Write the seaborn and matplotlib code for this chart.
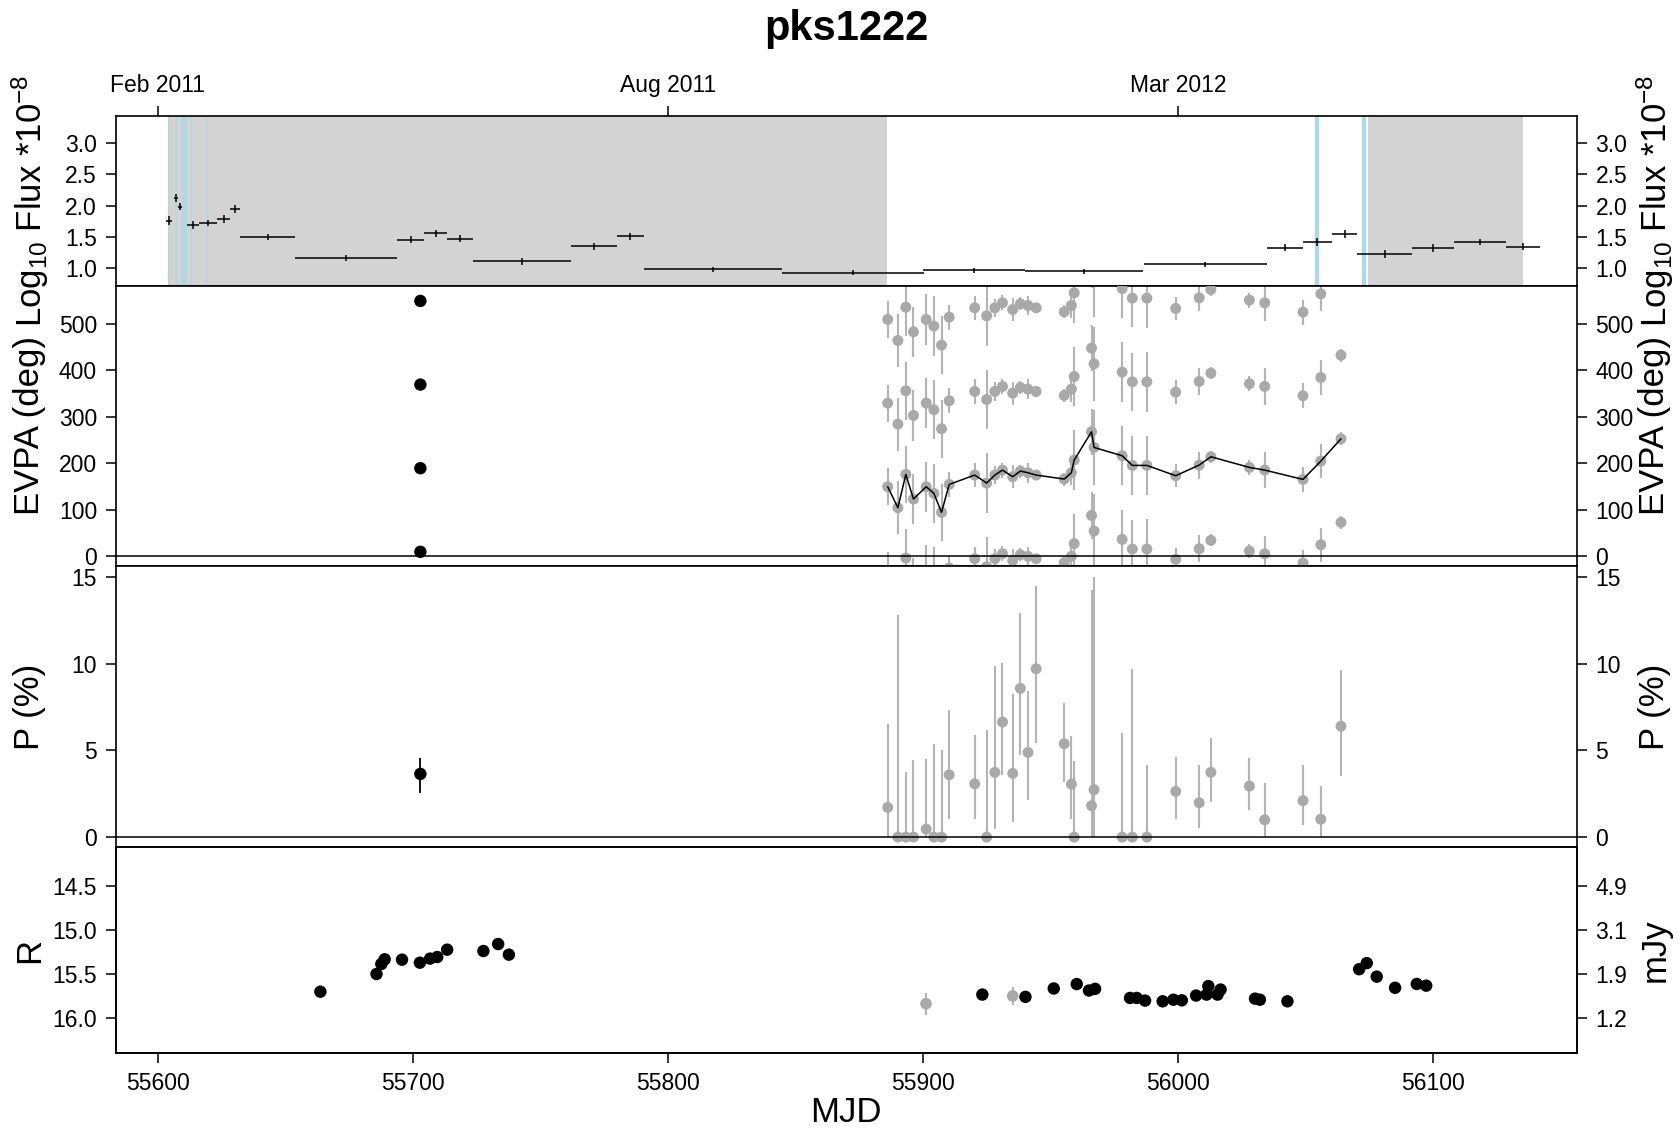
import numpy as np
import pandas as pd
import matplotlib
matplotlib.use("Agg")
import matplotlib.pyplot as plt
import seaborn as sns

# ------------------------------------------------------------------ data
top_tick_mjd = [55600, 55800, 56000]
top_tick_labels = ["Feb 2011", "Aug 2011", "Mar 2012"]
bottom_ticks = [55600, 55700, 55800, 55900, 56000, 56100]

shade_start = [55604.2, 56074.6]
shade_end = [55886.1, 56135.2]
blue_thin_mjd = [55604.2, 55607.2, 55613.0, 55619.5]
blue_thick_mjd = [55610.4, 56054.5, 56073.1]

flux_mjd = [55604.5, 55607.1, 55608.7, 55613.9, 55619.8, 55625.9, 55630.4, 55643.1,
            55673.9, 55699.2, 55709.1, 55718.7, 55742.9, 55771.0, 55785.3, 55817.6,
            55872.5, 55920.1, 55963.2, 56010.7, 56041.9, 56054.6, 56065.3, 56081.1,
            56100.0, 56118.4, 56135.2]
flux_halfbin = [1.2, 0.8, 0.8, 2.2, 3.5, 2.6, 1.9, 10.9, 19.9, 5.4, 4.5, 5.1, 19.1,
                9.0, 5.25, 27.1, 27.75, 19.9, 23.25, 24.15, 7.05, 5.7, 5.0, 10.8,
                8.15, 10.2, 6.55]
flux_val = [1.763, 2.12, 1.987, 1.693, 1.72, 1.79, 1.944, 1.50, 1.17, 1.459, 1.56,
            1.475, 1.112, 1.352, 1.512, 0.984, 0.931, 0.973, 0.952, 1.064, 1.331,
            1.42, 1.549, 1.229, 1.325, 1.42, 1.347]
flux_err = [0.07, 0.06, 0.06, 0.06, 0.05, 0.06, 0.06, 0.05, 0.05, 0.06, 0.06, 0.06,
            0.05, 0.06, 0.06, 0.04, 0.04, 0.04, 0.04, 0.04, 0.06, 0.06, 0.06, 0.06,
            0.06, 0.05, 0.06]

evpa_mjd = [55886.2, 55890.2, 55893.3, 55896.3, 55901.3, 55904.3, 55907.3, 55910.3,
            55920.3, 55925.0, 55928.2, 55931.2, 55935.2, 55938.2, 55941.2, 55944.4,
            55955.4, 55958.2, 55959.3, 55966.1, 55967.1, 55978.1, 55982.1, 55987.8,
            55999.1, 56008.3, 56012.9, 56028.0, 56034.0, 56049.0, 56056.0, 56063.9]
evpa_val = [149.1, 103.9, 175.6, 122.6, 149.1, 134.8, 93.9, 154.1, 174.2, 157.0,
            174.2, 184.9, 170.6, 182.8, 179.2, 174.2, 165.6, 179.2, 206.5, 267.4,
            233.7, 215.8, 195.0, 195.0, 172.8, 195.7, 213.6, 190.7, 184.9, 164.9,
            204.3, 252.3]
evpa_err = [40, 57, 62, 54, 54, 64, 62, 27, 26, 64, 20, 16, 25, 14, 21, 11, 14, 27,
            64, 50, 80, 64, 63, 64, 25, 29, 13, 16, 39, 27, 37, 14]

pol_val = [1.71, 0, 0, 0, 0.46, 0, 0, 3.59, 3.07, 0, 3.73, 6.63, 3.67, 8.57, 4.88,
           9.70, 5.38, 3.05, 0, 1.81, 2.73, 0, 0, 0, 2.63, 1.98, 3.73, 2.94, 1.0,
           2.1, 1.03, 6.39]
pol_lo = [0, 0, 0, 0, 0, 0, 0, 1.06, 1.06, 0, 0.48, 3.59, 0.86, 4.71, 2.11, 5.42,
          3.17, 1.06, 0, 0, 0, 0, 0, 0, 1.06, 0.54, 2.02, 1.54, 0, 0.67, 0, 3.51]
pol_hi = [6.53, 12.77, 3.75, 4.42, 4.51, 5.38, 5.03, 7.34, 5.86, 6.19, 9.83, 10.06,
          8.26, 12.92, 8.39, 14.44, 7.74, 5.82, 4.36, 14.21, 14.98, 6.01, 9.66, 4.13,
          4.61, 4.17, 5.70, 4.57, 3.13, 4.17, 2.94, 9.60]

opt_mjd = [55703.0]
opt_evpa = [9.0]
opt_pol = [3.64]
opt_pol_lo = [2.53]
opt_pol_hi = [4.57]

rmag_mjd = [55663.8, 55685.8, 55687.7, 55689.0, 55695.8, 55702.8, 55706.8, 55709.6,
            55713.5, 55727.7, 55733.5, 55737.7, 55923.3, 55940.2, 55951.3, 55960.3,
            55965.1, 55967.5, 55981.2, 55983.8, 55987.1, 55994.0, 55998.2, 56001.5,
            56007.1, 56011.2, 56011.9, 56015.5, 56016.7, 56030.2, 56032.1, 56042.9,
            56071.0, 56074.0, 56077.9, 56085.1, 56093.6, 56097.3]
rmag_val = [15.699, 15.499, 15.386, 15.333, 15.337, 15.371, 15.325, 15.307, 15.224,
            15.239, 15.160, 15.280, 15.732, 15.758, 15.663, 15.613, 15.686, 15.667,
            15.770, 15.770, 15.800, 15.808, 15.790, 15.797, 15.743, 15.732, 15.636,
            15.732, 15.675, 15.778, 15.790, 15.808, 15.445, 15.376, 15.529, 15.655,
            15.612, 15.631]
rmag_gray_mjd = [55901.2, 55935.2]
rmag_gray_val = [15.835, 15.747]
rmag_gray_err = [0.125, 0.10]

r_ticks = [14.5, 15.0, 15.5, 16.0]
r_tick_labels = ["14.5", "15.0", "15.5", "16.0"]
mjy_labels = ["4.9", "3.1", "1.9", "1.2"]

# ------------------------------------------------------------------ style
sns.set_style("ticks")
plt.rcParams["font.family"] = ["Liberation Sans", "DejaVu Sans"]
plt.rcParams["mathtext.fontset"] = "custom"
plt.rcParams["mathtext.rm"] = "Liberation Sans"
plt.rcParams["mathtext.it"] = "Liberation Sans:italic"
plt.rcParams["axes.linewidth"] = 1.2
plt.rcParams["axes.edgecolor"] = "black"
plt.rcParams["text.color"] = "black"
plt.rcParams["axes.labelcolor"] = "black"
plt.rcParams["xtick.color"] = "black"
plt.rcParams["ytick.color"] = "black"

GRAY_PT = "#A9A9A9"
GRAY_BAR = "#B4B4B4"
TICK_FS = 16.5
LAB_FS = 25

W, H = 1681, 1134
L, Rr = 115.8, 1576.7
fig = plt.figure(figsize=(W / 100, H / 100), dpi=100)


def box(top, bottom):
    return [L / W, 1 - bottom / H, (Rr - L) / W, (bottom - top) / H]


ax1 = fig.add_axes(box(116, 285.7))
ax2 = fig.add_axes(box(285.7, 566))
ax3 = fig.add_axes(box(566, 847))
ax4 = fig.add_axes(box(847, 1053))

XLIM = (55583.6, 56156.3)

# ---- flux panel
for s, e in zip(shade_start, shade_end):
    ax1.axvspan(s, e, color="#D3D3D3", lw=0, zorder=0)
for m in blue_thin_mjd:
    ax1.axvline(m, color="#ADD8E6", lw=0.9, zorder=1)
for m in blue_thick_mjd:
    ax1.axvline(m, color="#ADD8E6", lw=3.2, zorder=1)
ax1.errorbar(flux_mjd, flux_val, xerr=flux_halfbin, yerr=flux_err, fmt="none",
             ecolor="black", elinewidth=1.1, capsize=0, zorder=3)
ax1.set_ylim(0.725, 3.43)
ax1.set_yticks([1.0, 1.5, 2.0, 2.5, 3.0])
ax1.set_yticklabels(["1.0", "1.5", "2.0", "2.5", "3.0"])
ax1.set_xticks(top_tick_mjd)
ax1.set_xticklabels(top_tick_labels)
ax1.tick_params(axis="x", top=True, bottom=False, labeltop=True, labelbottom=False)
ax1.tick_params(axis="y", left=True, right=True, labelleft=True, labelright=True)

# ---- EVPA panel
evpa_df = pd.DataFrame({"mjd": evpa_mjd, "evpa": evpa_val, "err": evpa_err})
for k in (-1, 0, 1, 2):
    yy = evpa_df["evpa"] + 180 * k
    ax2.errorbar(evpa_df["mjd"], yy, yerr=evpa_df["err"], fmt="none",
                 ecolor=GRAY_BAR, elinewidth=1.5, capsize=0, zorder=2)
    sns.scatterplot(x=evpa_df["mjd"], y=yy, color=GRAY_PT, s=62, edgecolor="none",
                    ax=ax2, zorder=3, legend=False)
sns.lineplot(data=evpa_df, x="mjd", y="evpa", color="black", lw=1.1, sort=False,
             estimator=None, ax=ax2, zorder=5, legend=False)
opt_df = pd.DataFrame({"mjd": opt_mjd * 4,
                       "evpa": [opt_evpa[0] + 180 * k for k in range(4)]})
sns.scatterplot(data=opt_df, x="mjd", y="evpa", color="black", s=80,
                edgecolor="none", ax=ax2, zorder=6, legend=False)
ax2.axhline(0, color="black", lw=1.1, zorder=4)
ax2.set_ylim(-21.5, 581.8)
ax2.set_yticks([0, 100, 200, 300, 400, 500])
ax2.tick_params(axis="x", bottom=False, top=False, labelbottom=False)
ax2.tick_params(axis="y", left=True, right=True, labelleft=True, labelright=True)

# ---- polarisation panel
pol_df = pd.DataFrame({"mjd": evpa_mjd, "p": pol_val, "lo": pol_lo, "hi": pol_hi})
ax3.errorbar(pol_df["mjd"], pol_df["p"],
             yerr=[pol_df["p"] - pol_df["lo"], pol_df["hi"] - pol_df["p"]],
             fmt="none", ecolor=GRAY_BAR, elinewidth=1.5, capsize=0, zorder=2)
sns.scatterplot(data=pol_df, x="mjd", y="p", color=GRAY_PT, s=62, edgecolor="none",
                ax=ax3, zorder=3, legend=False)
ax3.errorbar(opt_mjd, opt_pol,
             yerr=[[opt_pol[0] - opt_pol_lo[0]], [opt_pol_hi[0] - opt_pol[0]]],
             fmt="none", ecolor="black", elinewidth=1.3, capsize=0, zorder=4)
sns.scatterplot(x=opt_mjd, y=opt_pol, color="black", s=80, edgecolor="none",
                ax=ax3, zorder=5, legend=False)
ax3.axhline(0, color="black", lw=1.1, zorder=4)
ax3.set_ylim(-0.57, 15.62)
ax3.set_yticks([0, 5, 10, 15])
ax3.tick_params(axis="x", bottom=False, top=False, labelbottom=False)
ax3.tick_params(axis="y", left=True, right=True, labelleft=True, labelright=True)

# ---- R magnitude panel
ax4.errorbar(rmag_gray_mjd, rmag_gray_val, yerr=rmag_gray_err, fmt="none",
             ecolor=GRAY_BAR, elinewidth=1.5, capsize=0, zorder=2)
sns.scatterplot(x=rmag_gray_mjd, y=rmag_gray_val, color=GRAY_PT, s=70,
                edgecolor="none", ax=ax4, zorder=3, legend=False)
sns.scatterplot(x=rmag_mjd, y=rmag_val, color="black", s=80, edgecolor="none",
                ax=ax4, zorder=4, legend=False)
ax4.set_ylim(16.393, 14.062)
ax4.set_yticks(r_ticks)
ax4.set_yticklabels(r_tick_labels)
ax4.set_xticks(bottom_ticks)
ax4.set_xticklabels([str(t) for t in bottom_ticks])
ax4.tick_params(axis="x", bottom=True, top=False, labelbottom=True)
ax4.tick_params(axis="y", left=True, right=False)
ax4b = ax4.twinx()
ax4b.set_ylim(16.393, 14.062)
ax4b.set_yticks(r_ticks)
ax4b.set_yticklabels(mjy_labels)

# ---- common axis styling (after seaborn calls so its labels are cleared)
for ax in (ax1, ax2, ax3, ax4, ax4b):
    ax.set_xlim(*XLIM)
    ax.tick_params(direction="out", length=7.5, width=1.1, labelsize=TICK_FS,
                   pad=6, color="black", labelcolor="black")
    for sp in ax.spines.values():
        sp.set_visible(True)
        sp.set_linewidth(1.2)
        sp.set_color("black")
    ax.set_xlabel("")
    ax.set_ylabel("")

# ---- text
fig.text(846 / W, 1 - 29 / H, "pks1222", ha="center", va="center", fontsize=30,
         fontweight="bold", color="black")
fig.text(846 / W, 1 - 1112 / H, "MJD", ha="center", va="center", fontsize=LAB_FS)

left_x, right_x = 30 / W, 1655 / W
flux_lab = r"Log$_{10}$ Flux *10$^{-8}$"
for ax, lab in ((ax1, flux_lab), (ax2, "EVPA (deg)"), (ax3, "P (%)")):
    pos = ax.get_position()
    yc = pos.y0 + pos.height / 2
    fig.text(left_x, yc, lab, rotation=90, ha="center", va="center", fontsize=LAB_FS)
    fig.text(right_x, yc, lab, rotation=90, ha="center", va="center", fontsize=LAB_FS)
pos = ax4.get_position()
yc = pos.y0 + pos.height / 2
fig.text(left_x, yc, "R", rotation=90, ha="center", va="center", fontsize=LAB_FS)
fig.text(right_x, yc, "mJy", rotation=90, ha="center", va="center", fontsize=LAB_FS)

fig.savefig("out.png", dpi=100)
